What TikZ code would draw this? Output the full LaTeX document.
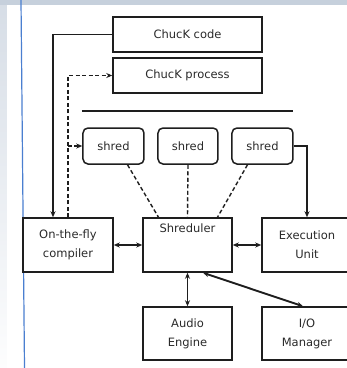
\documentclass[tikz,border=0pt]{standalone}
\usepackage{fontspec}
\setmainfont{DejaVu Sans}
\usetikzlibrary{arrows.meta}
\definecolor{topc}{HTML}{C6D0DC}
\definecolor{leftc}{HTML}{D6DDE6}
\definecolor{bluel}{HTML}{4A7FD0}
\definecolor{ink}{HTML}{1E1E1E}
\definecolor{txt}{HTML}{2A2A2A}
\begin{document}
\begin{tikzpicture}[x=1pt,y=-1pt,
  box/.style={draw=ink, line width=1.5pt, fill=white, text=txt, align=center,
    font=\fontsize{11.5}{19}\selectfont, inner sep=0pt},
  rbox/.style={box, rounded corners=5pt},
  link/.style={draw=ink, line width=1.4pt},
  dlink/.style={link, dash pattern=on 4pt off 2.5pt},
  tip/.style={-{Stealth[length=6pt,width=5pt]}},
  dtip/.style={{Stealth[length=6pt,width=5pt]}-{Stealth[length=6pt,width=5pt]}, line width=1.9pt}
]
\useasboundingbox (0,0) rectangle (347,368);
\begin{scope}
\clip (0,0) rectangle (347,368);
\fill[white] (0,0) rectangle (347,368);
\shade[top color=leftc, bottom color=white!95!leftc] (0,0) rectangle (7,368);
\fill[topc] (0,0) rectangle (347,4.5);
\draw[bluel, line width=1.2pt] (21,0) -- (24.5,368);

\node[box, minimum width=149, minimum height=35] (code) at (187.5,34.5) {ChucK code};
\node[box, minimum width=149, minimum height=35] (proc) at (187.5,75.5) {ChucK process};
\coordinate (barl) at (82,111);
\coordinate (barr) at (293,111);
\draw[link] (barl) -- (barr);

\node[rbox, minimum width=61, minimum height=36] (sh1) at (113.5,146) {shred};
\node[rbox, minimum width=60, minimum height=36] (sh2) at (188,146) {shred};
\node[rbox, minimum width=61, minimum height=36] (sh3) at (262.5,146) {shred};

\node[box, minimum width=90, minimum height=54] (comp) at (68,245) {On-the-fly\\compiler};
\node[box, minimum width=89, minimum height=54] (shr) at (187.5,245) {};
\node[text=txt, font=\fontsize{11.5}{19}\selectfont, anchor=north, inner sep=0pt] (shrlabel) at ([yshift=-6pt]shr.north) {Shreduler};
\node[box, minimum width=90, minimum height=54] (exec) at (307,245) {Execution\\Unit};
\node[box, minimum width=89, minimum height=53] (audio) at (187.5,333.5) {Audio\\Engine};
\node[box, minimum width=90, minimum height=53] (io) at (307,333.5) {I/O\\Manager};

\draw[link, tip] (code.west) -| ([xshift=-15pt]comp.north);
\draw[dlink, tip] (comp.north) |- (proc.west);
\coordinate (br) at (comp.north |- sh1.west);
\draw[dlink, tip] (br) -- (sh1.west);

\draw[dlink] ([xshift=14pt]sh1.south) -- ([xshift=-29pt]shr.north);
\draw[dlink] (sh2.south) -- (shr.north);
\draw[dlink] ([xshift=-15pt]sh3.south) -- ([xshift=30pt]shr.north);

\draw[link, tip] (sh3.east) -| (exec.north);

\draw[link, dtip] (comp.east) -- (shr.west);
\draw[link, dtip] (shr.east) -- (exec.west);
\draw[link, dtip] (shr.south) -- (audio.north);
\draw[link, dtip] ([xshift=15.5pt]shr.south) -- ([xshift=-4pt]io.north);
\end{scope}
\end{tikzpicture}
\end{document}
